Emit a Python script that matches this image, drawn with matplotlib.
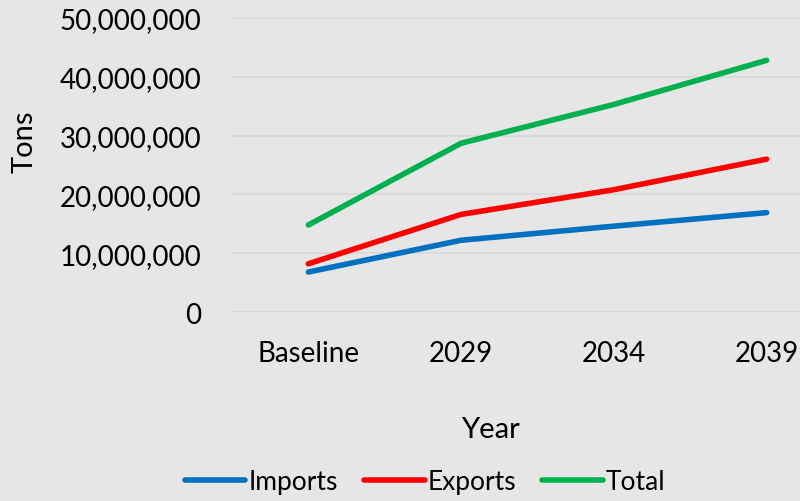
import matplotlib.pyplot as plt
from matplotlib.ticker import FuncFormatter

years = ["Baseline", "2029", "2034", "2039"]
imports = [6.8e6, 12.2e6, 14.6e6, 16.9e6]
exports = [8.2e6, 16.6e6, 20.8e6, 26.0e6]
total = [14.8e6, 28.7e6, 35.3e6, 42.8e6]

plt.rcParams['font.family'] = ['Lato', 'DejaVu Sans']
bg = '#E7E6E6'

fig = plt.figure(figsize=(8, 5.02), dpi=100, facecolor=bg)
ax = fig.add_axes([232 / 800, 1 - 313 / 502, 611 / 800, 294 / 502], facecolor=bg)

x = range(len(years))
ax.plot(x, imports, color='#0070C0', lw=4, label='Imports', solid_capstyle='round')
ax.plot(x, exports, color='#FF0000', lw=4, label='Exports', solid_capstyle='round')
ax.plot(x, total, color='#00B050', lw=4, label='Total', solid_capstyle='round')

ax.set_xlim(-0.5, 3.5)
ax.set_ylim(0, 50e6)
ax.set_yticks([0, 10e6, 20e6, 30e6, 40e6, 50e6])
ax.yaxis.set_major_formatter(FuncFormatter(lambda v, p: f"{int(v):,}"))
ax.set_xticks(list(x))
ax.set_xticklabels(years)
ax.tick_params(axis='both', length=0, labelsize=20, colors='black')
ax.tick_params(axis='y', pad=22)
ax.tick_params(axis='x', pad=20)
ax.grid(axis='y', color='#D9D8D8', lw=1.2)
ax.set_axisbelow(True)
for s in ax.spines.values():
    s.set_visible(False)

fig.text(490 / 800, 1 - 430 / 502, 'Year', fontsize=21, ha='center', va='center')
fig.text(25 / 800, 1 - 142 / 502, 'Tons', fontsize=21, ha='center', va='center', rotation=90)

fig.legend(loc='center', bbox_to_anchor=(425 / 800, 1 - 483 / 502), ncol=3, frameon=False,
           fontsize=19, handlelength=2.3, handletextpad=0.1, columnspacing=1.0)

fig.savefig('out.png', dpi=100, facecolor=bg)
